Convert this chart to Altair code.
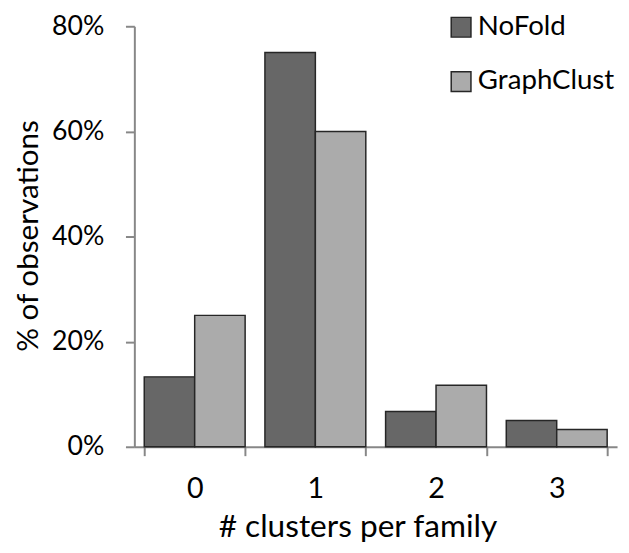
import altair as alt
import pandas as pd

categories = ["0", "1", "2", "3"]
series = ["NoFold", "GraphClust"]
nofold = [13.3, 75.0, 6.7, 5.0]
graphclust = [25.0, 60.0, 11.7, 3.3]
y_ticks = [0, 20, 40, 60, 80]

rows = []
for c, a, b in zip(categories, nofold, graphclust):
    rows.append({"cat": c, "series": "NoFold", "value": a})
    rows.append({"cat": c, "series": "GraphClust", "value": b})
df = pd.DataFrame(rows)

FONT = "Lato"
AX = "#878787"

chart = alt.Chart(df).mark_bar(stroke="#262626", strokeWidth=1.5).encode(
    x=alt.X("cat:N", sort=categories,
            scale=alt.Scale(paddingInner=0.164, paddingOuter=0.082),
            axis=alt.Axis(title="# clusters per family", labelAngle=0, tickBand="extent",
                          domainColor=AX, domainWidth=2, tickColor=AX, tickWidth=2, tickSize=9,
                          labelFont=FONT, labelFontSize=29, labelColor="#000", labelPadding=19,
                          titleFont=FONT, titleFontSize=32, titleFontWeight="normal", titleColor="#000",
                          titleX=226, titleY=91, titleBaseline="alphabetic")),
    xOffset=alt.XOffset("series:N", sort=series, scale=alt.Scale(paddingInner=0, paddingOuter=0)),
    y=alt.Y("value:Q", scale=alt.Scale(domain=[0, 80], nice=False),
            axis=alt.Axis(values=y_ticks, labelExpr="datum.value + '%'", title="% of observations",
                          grid=False, domainColor=AX, domainWidth=2, tickColor=AX, tickWidth=2, tickSize=9,
                          labelFont=FONT, labelFontSize=27, labelColor="#000", labelPadding=22,
                          titleFont=FONT, titleFontSize=30, titleFontWeight="normal", titleColor="#000",
                          titleX=-98, titleY=212, titleBaseline="alphabetic")),
    color=alt.Color("series:N", sort=series,
                    scale=alt.Scale(domain=series, range=["#676767", "#ababab"]),
                    legend=alt.Legend(title=None, orient="none", legendX=317, legendY=-13,
                                      symbolType="square", symbolSize=400, symbolStrokeColor="#262626",
                                      symbolStrokeWidth=1.5, symbolOpacity=1,
                                      labelFont=FONT, labelFontSize=28, labelColor="#000",
                                      labelOffset=3, rowPadding=27, padding=0)),
).properties(
    width=489, height=426,
    autosize=alt.AutoSizeParams(type="none"),
    padding={"left": 128, "top": 15, "right": 4, "bottom": 96},
).configure_view(stroke=None)

chart.save("out.html", embed_options={"renderer": "svg", "actions": False})
